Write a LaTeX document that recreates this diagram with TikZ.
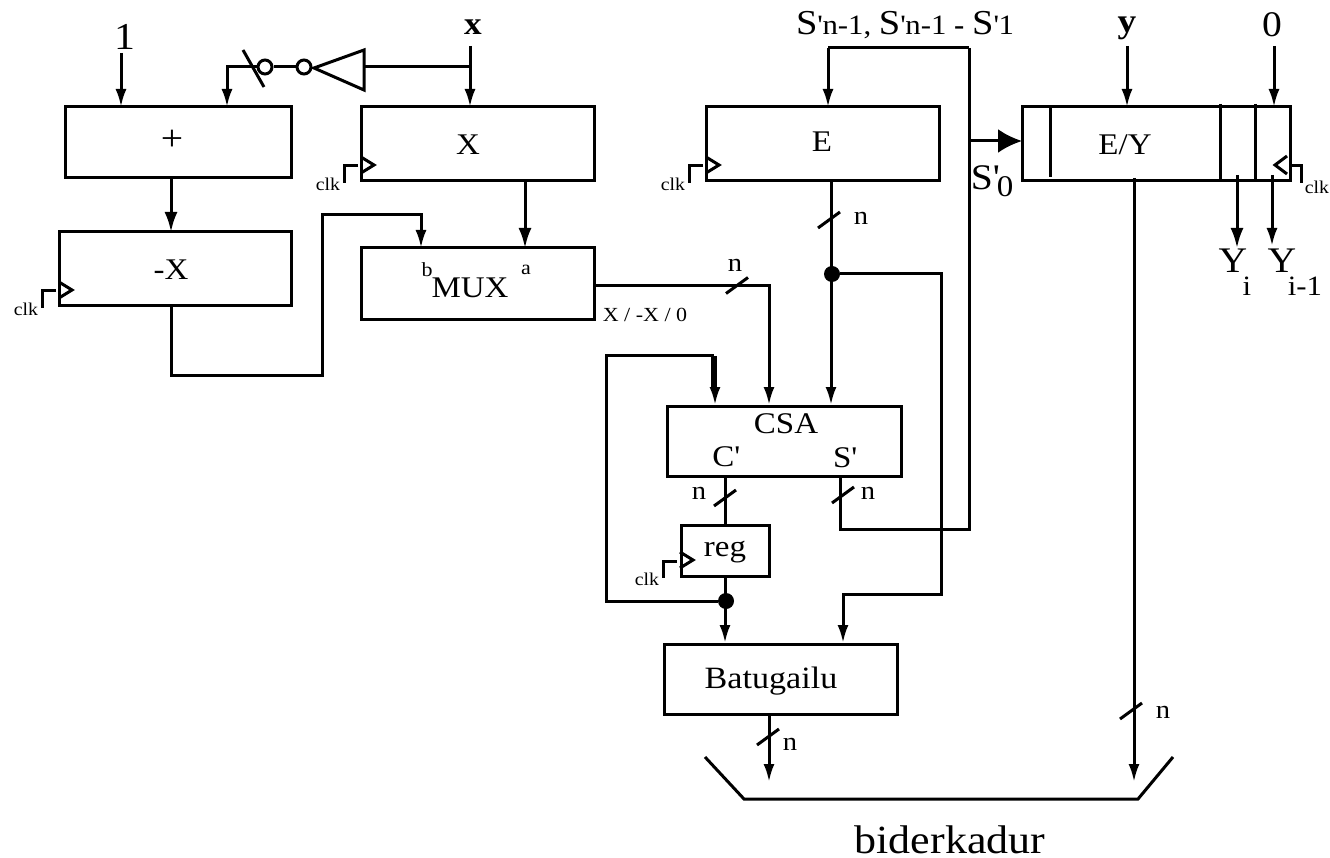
\documentclass[tikz,border=0pt]{standalone}
\usepackage{fontspec}
\setmainfont[FakeStretch=1.1]{Liberation Serif}
\usetikzlibrary{arrows.meta,calc}

\tikzset{
  blok/.style={draw, line width=3pt, inner sep=0pt, outer sep=0pt, minimum width=#1},
  blok/.default=100pt,
  wire/.style={line width=3pt},
  pijl/.style={wire, -{Latex[length=18pt,width=11pt]}},
  pijlg/.style={wire, -{Latex[length=20pt,width=13pt]}},
  tekst/.style={inner sep=0pt, font=\fontsize{30}{30}\selectfont},
  groot/.style={inner sep=0pt, font=\fontsize{36}{36}\selectfont},
  klein/.style={inner sep=0pt, font=\fontsize{18}{18}\selectfont},
  breed/.style={inner sep=0pt, font=\fontsize{26}{26}\selectfont},
  punt/.style={circle, fill=black, inner sep=0pt, minimum size=16pt},
  inv/.style={circle, draw, line width=3pt, inner sep=0pt, minimum size=14pt}
}
\newcommand{\pr}{\textquotesingle}
\newcommand{\hoogS}{{\fontsize{35}{35}\selectfont S}}

\begin{document}
\begin{tikzpicture}[x=1pt,y=-1pt]
\fill[white] (0,0) rectangle (1330,858);
\useasboundingbox (0,0) rectangle (1330,858);

    % Blocks
    \node[blok=226pt, minimum height=71pt] (plus) at (178,142.5) {};
    \node[blok=232pt, minimum height=74pt] (negx) at (175,269) {};
    \node[blok=233pt, minimum height=74pt] (xreg) at (477.5,144) {};
    \node[blok=233pt, minimum height=72pt] (mux) at (477.5,284) {};
    \node[blok=233pt, minimum height=74pt] (ereg) at (822.5,144) {};
    \node[blok=268pt, minimum height=74pt] (eyreg) at (1156,144) {};
    \node[blok=234pt, minimum height=70pt] (csa) at (784,441) {};
    \node[blok=88pt, minimum height=51pt] (reg) at (725,550.5) {};
    \node[blok=233pt, minimum height=70pt] (batu) at (780.5,679) {};

    % Texts in the blocks
    \node[groot] (plustxt) at (172,140) {+};
    \node[tekst] (xtxt) at (468,145) {X};
    \node[tekst] (negxtxt) at (171,270) {-X};
    \node[tekst] (muxtxt) at (470,288) {MUX};
    \node[klein, font=\fontsize{20}{20}\selectfont] (btxt) at (427,270) {b};
    \node[klein, font=\fontsize{20}{20}\selectfont] (atxt) at (526,270) {a};
    \node[tekst] (etxt) at (822,142) {E};
    \node[tekst] (eytxt) at (1125,145) {E/Y};
    \node[tekst] (csatxt) at (786,424) {CSA};
    \node[tekst] (ctxt) at (726,457) {C\pr};
    \node[tekst] (stxt) at (845,458) {S\pr};
    \node[tekst] (regtxt) at (725,552) {reg};
    \node[tekst, font=\fontsize{31}{31}\selectfont] (batutxt) at (771,681) {Batugailu};

    % Inputs and outputs
    \node[groot, font=\fontsize{38}{38}\selectfont] (een) at (125,37) {1};
    \node[tekst, font=\fontsize{32}{32}\selectfont\bfseries] (xin) at (473,27) {x};
    \node[tekst, font=\fontsize{28}{28}\selectfont] (sin) at (905,25) {\hoogS\pr n-1, \hoogS\pr n-1 {\bfseries -} \hoogS\pr 1};
    \node[tekst, font=\fontsize{34}{34}\selectfont\bfseries] (yin) at (1127,28) {y};
    \node[groot] (nul) at (1272,25) {0};
    \node[groot] (s0a) at (985,178) {S\pr};
    \node[tekst] (s0b) at (1005,187) {0};
    \node[groot] (yi) at (1233,261) {Y};
    \node[tekst, font=\fontsize{28}{28}\selectfont] (yisub) at (1247,286) {i};
    \node[groot] (yj) at (1282,261) {Y};
    \node[tekst, font=\fontsize{28}{28}\selectfont] (yjsub) at (1305,286) {i-1};
    \node[inner sep=0pt, font=\fontsize{40}{40}\selectfont] (bider) at (950,840) {biderkadur};
    \node[klein, font=\fontsize{20}{20}\selectfont] (xnx) at (645,315) {X / -X / 0};

    % Bit width labels
    \node[breed] (n1) at (735,265) {n};
    \node[breed] (n2) at (861,218) {n};
    \node[breed] (n3) at (699,493) {n};
    \node[breed] (n4) at (868,493) {n};
    \node[breed] (n5) at (790,744) {n};
    \node[breed] (n6) at (1163,712) {n};

    % Free ends and bends
    \coordinate (eent) at (121,53);
    \coordinate (xtop) at (470,46);
    \coordinate (xtak) at (470,67);
    \coordinate (ytop) at (1127,46);
    \coordinate (ntop) at (1274,46);
    \coordinate (stop) at (969,48);
    \coordinate (stak) at (969,141);
    \coordinate (buik) at (1134,782);
    \coordinate (uit) at (769,782);

    % Inverter chain
    \node[inv] (inv1) at (265,67) {};
    \node[inv] (inv2) at (304,67) {};
    \coordinate (tri1) at (364,50);
    \coordinate (tri2) at (314,68);
    \coordinate (tri3) at (364,90);
    \draw[wire, line join=miter] (tri1) -- (tri2) -- (tri3) -- cycle;
    \draw[wire] (tri1 |- xtak) -- (xtak);
    \draw[wire] (inv2) -- (inv1);
    \draw[pijl] (inv1.west) -- (227,67) -- (227,107);
    \draw[wire] (243,50) -- (264,87);

    % Connectors
    \draw[pijl] (eent) -- (eent |- plus.north);
    \draw[pijl] (xtop) -- (xtop |- xreg.north);
    \draw[pijlg] (plus.south -| negxtxt) -- (negxtxt |- negx.north);
    \draw[pijlg] (525,181) -- (525,248);
    \draw[pijl] (negx.south -| negxtxt) -- (171,375) -- (322,375) -- (322,215) -- (421,215) -- (421,248);
    \draw[pijl] (mux.east |- 0,285.5) -- (769,285.5) -- (769,405);
    \draw[wire] (stop) -- (828,48);
    \draw[pijl] (828,48) -- (828,107);
    \draw[wire] (stop) -- (969,529) -- (840,529) -- (840,476);
    \draw[wire, -{Latex[length=24pt,width=24pt]}] (stak) -- (eyreg.west |- stak);
    \draw[pijl] (ytop) -- (ytop |- eyreg.north);
    \draw[pijl] (ntop) -- (ntop |- eyreg.north);
    \draw[pijlg] (1237,175) -- (1237,248);
    \draw[pijl] (1272,175) -- (1272,246);
    \draw[pijl] (1134,178) -- (buik);
    \node[punt] (tak1) at (832,274) {};
    \draw[pijl] (831,181) -- (831,405);
    \draw[pijl] (tak1) -- (941,274) -- (941,594) -- (843,594) -- (843,643);
    \draw[wire] (725,476) -- (725,525);
    \node[punt] (tak2) at (726,601) {};
    \draw[pijl] (725,576) -- (725,643);
    \draw[wire] (tak2) -- (606,601) -- (606,356) -- (712,356) -- (712,390);
    \draw[pijl] (715,356) -- (715,405);
    \draw[pijl] (batu.south -| uit) -- (uit);

    % Bus slashes
    \foreach \p in {(737,285.5),(829,220),(725,498),(843,495),(768,737),(1131,711)}
      \draw[wire] \p ++(-11,8) -- ++(22,-16);

    % Output mux
    \draw[wire, line join=miter] (705,757) -- (744,799) -- (1138,799) -- (1173,757);

    % Separators of the result register
    \draw[wire] (1050,107) -- (1050,177);
    \draw[wire] (1220,104) -- (1220,181);
    \draw[wire] (1255,104) -- (1255,181);

    % Clock marks
    \coordinate (xclk) at (361,166);
    \coordinate (negclk) at (59,291);
    \coordinate (eclk) at (706,166);
    \coordinate (regclk) at (680,561);
    \foreach \c in {xclk,negclk,eclk,regclk}{
      \draw[wire, line join=miter] (\c) ++(0,-9) -- ++(13,8) -- ++(-13,8);
      \draw[wire, line join=miter] (\c) ++(-3,0) -- ++(-14,0) -- ++(0,17);
      \path (\c) ++(-33,18) node[klein] (\c lab) {clk};
    }
    \coordinate (eyclk) at (1287,165);
    \draw[wire, line join=miter] (eyclk) ++(0,-9) -- ++(-12,9) -- ++(12,9);
    \draw[wire, line join=miter] (eyclk) ++(3,1) -- ++(11,0) -- ++(0,17);
    \node[klein] (eyclklab) at (1317,187) {clk};

\end{tikzpicture}
\end{document}
